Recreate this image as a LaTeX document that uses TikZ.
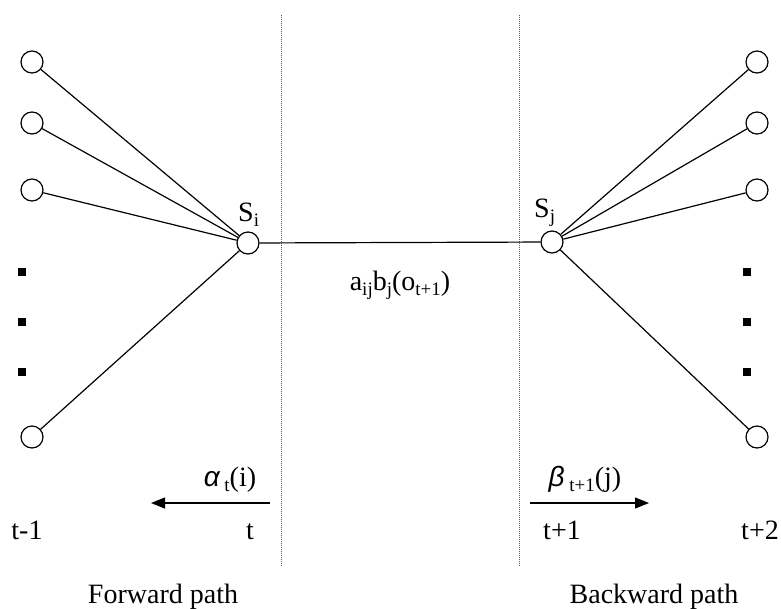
\documentclass[tikz,border=0pt]{standalone}
\usepackage{fontspec}
\setmainfont{Liberation Serif}
\newfontfamily\grkfont{Liberation Sans}
\usetikzlibrary{arrows.meta}
\newcommand\sbs[1]{\raisebox{-0.4ex}{\fontsize{19}{20}\selectfont #1}}
\begin{document}
\begin{tikzpicture}[x=1pt,y=-1pt,
  every node/.style={font=\fontsize{28}{32}\selectfont},
  st/.style={circle,draw,line width=1.2pt,minimum size=22pt,inner sep=0pt,fill=white},
  dotbox/.style={fill=black,minimum size=7.5pt,inner sep=0pt},
  link/.style={line width=1.2pt},
  sep/.style={draw=black!65,line width=1pt,dash pattern=on 1pt off 1pt},
  arr/.style={line width=1.2pt,-{Triangle[length=14pt,width=11pt]}},
  lbl/.style={inner sep=0pt,anchor=base}]
\useasboundingbox (0,0) rectangle (781,608);
% separators
\coordinate (d1t) at (281,15); \coordinate (d1b) at (281,567);
\coordinate (d2t) at (519,15); \coordinate (d2b) at (519,567);
\draw[sep] (d1t) -- (d1b);
\draw[sep] (d2t) -- (d2b);
% central states
\node[st] (si) at (248,243) {};
\node[st] (sj) at (552,242) {};
% left states
\node[st] (l1) at (32,62) {};
\node[st] (l2) at (32,123) {};
\node[st] (l3) at (32,190) {};
\node[st] (l4) at (32,437) {};
% right states
\node[st] (r1) at (757,62) {};
\node[st] (r2) at (757,123) {};
\node[st] (r3) at (757,190) {};
\node[st] (r4) at (757,437) {};
% dots
\node[dotbox] (ld1) at (22,272) {};
\node[dotbox] (ld2) at (22,322) {};
\node[dotbox] (ld3) at (22,372) {};
\node[dotbox] (rd1) at (747,272) {};
\node[dotbox] (rd2) at (747,322) {};
\node[dotbox] (rd3) at (747,372) {};
% links
\foreach \n in {l1,l2,l3,l4} \draw[link] (\n) -- (si);
\foreach \n in {r1,r2,r3,r4} \draw[link] (sj) -- (\n);
\draw[link] (si) -- (sj);
% labels
\node[lbl,anchor=base west] (lsi) at (238,221) {S\sbs{i}};
\node[lbl,anchor=base west] (lsj) at (534,217) {S\sbs{j}};
\node[lbl] (lab) at (400,290) {a\sbs{ij}b\sbs{j}(o\sbs{t+1})};
\node[lbl] (lalpha) at (230,486) {{\grkfont\itshape α}\,\sbs{t}(i)};
\node[lbl] (lbeta) at (585,486) {{\grkfont\itshape β}\,\sbs{t+1}(j)};
\coordinate (a1s) at (270,503); \coordinate (a1e) at (151,503);
\coordinate (a2s) at (530,503); \coordinate (a2e) at (649,503);
\draw[arr] (a1s) -- (a1e);
\draw[arr] (a2s) -- (a2e);
\node[lbl] (tm1) at (27,539) {t-1};
\node[lbl] (t0) at (250,539) {t};
\node[lbl] (tp1) at (562,539) {t+1};
\node[lbl] (tp2) at (760,539) {t+2};
\node[lbl] (fw) at (163,603) {Forward path};
\node[lbl] (bw) at (654,603) {Backward path};
\end{tikzpicture}
\end{document}
